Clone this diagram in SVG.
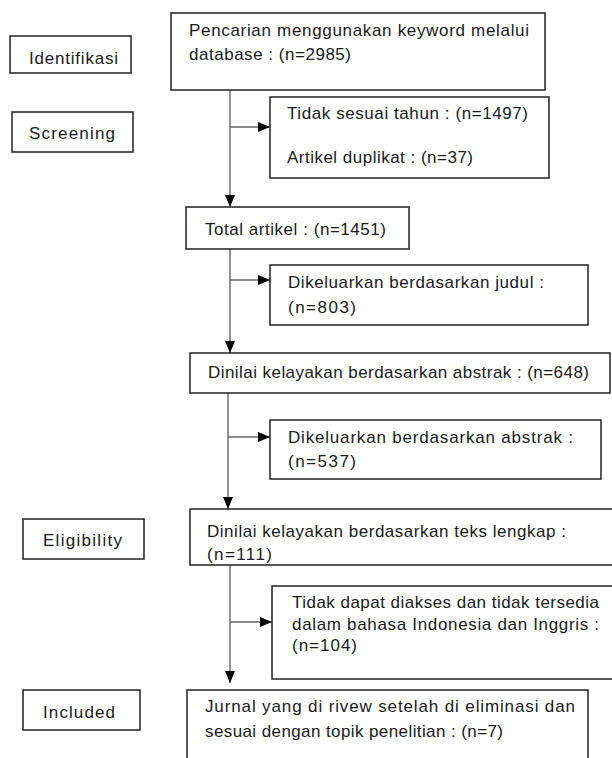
<svg xmlns="http://www.w3.org/2000/svg" width="612" height="758" viewBox="0 0 612 758">
<style>
.box{fill:#fff;stroke:#222;stroke-width:1.5}
.t{font-family:"Liberation Sans",Arial,sans-serif;font-size:17px;fill:#1a1a1a}
.ln{fill:none;stroke:#666;stroke-width:1.4}
</style>
<defs>
<marker id="ah" markerUnits="userSpaceOnUse" markerWidth="12" markerHeight="10" refX="12" refY="5" orient="auto">
<path d="M0,0 L12,5 L0,10 z" fill="#000"/>
</marker>
</defs>
<rect width="612" height="758" fill="#fff"/>
<g id="connectors">
<line class="ln" x1="230" y1="90" x2="230" y2="207" marker-end="url(#ah)"/>
<line class="ln" x1="230" y1="127" x2="270" y2="127" marker-end="url(#ah)"/>
<line class="ln" x1="230" y1="249" x2="230" y2="353" marker-end="url(#ah)"/>
<line class="ln" x1="230" y1="280" x2="270" y2="280" marker-end="url(#ah)"/>
<line class="ln" x1="228" y1="393" x2="228" y2="509" marker-end="url(#ah)"/>
<line class="ln" x1="228" y1="437" x2="270" y2="437" marker-end="url(#ah)"/>
<line class="ln" x1="230" y1="565" x2="230" y2="683" marker-end="url(#ah)"/>
<line class="ln" x1="230" y1="622" x2="272" y2="622" marker-end="url(#ah)"/>
</g>
<g id="identifikasi">
<rect class="box" x="10" y="36" width="121" height="37"/>
<text class="t" x="29" y="64" textLength="89" lengthAdjust="spacing">Identifikasi</text>
</g>
<g id="screening">
<rect class="box" x="12" y="112" width="121" height="40"/>
<text class="t" x="29" y="139" textLength="86" lengthAdjust="spacing">Screening</text>
</g>
<g id="eligibility">
<rect class="box" x="23" y="519" width="121" height="40"/>
<text class="t" x="43" y="546" textLength="79" lengthAdjust="spacing">Eligibility</text>
</g>
<g id="included">
<rect class="box" x="23" y="690" width="117" height="40"/>
<text class="t" x="43" y="718" textLength="72" lengthAdjust="spacing">Included</text>
</g>
<g id="pencarian">
<rect class="box" x="171" y="13" width="374" height="77"/>
<text class="t" x="189" y="36" textLength="340" lengthAdjust="spacing">Pencarian menggunakan keyword melalui</text>
<text class="t" x="189" y="60" textLength="162" lengthAdjust="spacing">database : (n=2985)</text>
</g>
<g id="excluded1">
<rect class="box" x="270" y="97" width="279" height="81"/>
<text class="t" x="287" y="119" textLength="241" lengthAdjust="spacing">Tidak sesuai tahun : (n=1497)</text>
<text class="t" x="287" y="163" textLength="186" lengthAdjust="spacing">Artikel duplikat : (n=37)</text>
</g>
<g id="total">
<rect class="box" x="186" y="207" width="223" height="42"/>
<text class="t" x="205" y="235" textLength="181" lengthAdjust="spacing">Total artikel : (n=1451)</text>
</g>
<g id="excluded2">
<rect class="box" x="270" y="265" width="318" height="60"/>
<text class="t" x="288" y="288" textLength="256" lengthAdjust="spacing">Dikeluarkan berdasarkan judul :</text>
<text class="t" x="288" y="313" textLength="68" lengthAdjust="spacing">(n=803)</text>
</g>
<g id="abstrak">
<rect class="box" x="190" y="353" width="420" height="40"/>
<text class="t" x="208" y="378" textLength="381" lengthAdjust="spacing">Dinilai kelayakan berdasarkan abstrak : (n=648)</text>
</g>
<g id="excluded3">
<rect class="box" x="270" y="420" width="331" height="59"/>
<text class="t" x="288" y="443" textLength="285" lengthAdjust="spacing">Dikeluarkan berdasarkan abstrak :</text>
<text class="t" x="288" y="467" textLength="68" lengthAdjust="spacing">(n=537)</text>
</g>
<g id="fulltext">
<rect class="box" x="190" y="509" width="440" height="56"/>
<text class="t" x="207" y="537" textLength="359" lengthAdjust="spacing">Dinilai kelayakan berdasarkan teks lengkap :</text>
<text class="t" x="207" y="560" textLength="65" lengthAdjust="spacing">(n=111)</text>
</g>
<g id="excluded4">
<rect class="box" x="272" y="586" width="360" height="93"/>
<text class="t" x="292" y="608" textLength="307" lengthAdjust="spacing">Tidak dapat diakses dan tidak tersedia</text>
<text class="t" x="292" y="630" textLength="307" lengthAdjust="spacing">dalam bahasa Indonesia dan Inggris :</text>
<text class="t" x="292" y="651" textLength="65" lengthAdjust="spacing">(n=104)</text>
</g>
<g id="included-box">
<rect class="box" x="187" y="690" width="401" height="90"/>
<text class="t" x="205" y="712" textLength="370" lengthAdjust="spacing">Jurnal yang di rivew setelah di eliminasi dan</text>
<text class="t" x="205" y="737" textLength="298" lengthAdjust="spacing">sesuai dengan topik penelitian : (n=7)</text>
</g>
</svg>
